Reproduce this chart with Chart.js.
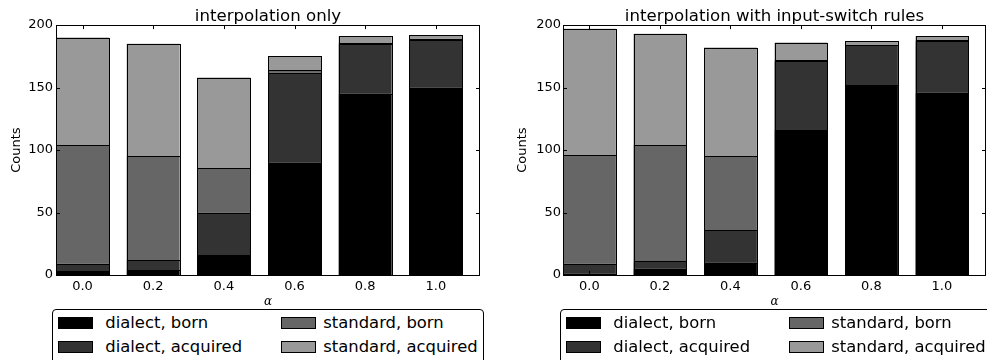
<!DOCTYPE html>
<html>
<head>
<meta charset="utf-8">
<script src="https://cdn.jsdelivr.net/npm/chart.js@4/dist/chart.umd.min.js"></script>
<style>
  html, body { margin: 0; padding: 0; background: #fff; }
  #wrap { position: relative; width: 987px; height: 360px; overflow: hidden; }
  canvas { position: absolute; top: 0; }
  #cL { left: 0; }
  #cR { left: 494px; }
  .legend { position: absolute; top: 309px; width: 430px; height: 80px;
            border: 1px solid #000; border-radius: 4px; background: #fff; box-sizing: content-box; }
  .sw { position: absolute; width: 33px; height: 10px; border: 1px solid #000; }
  .lt { position: absolute; font-family: "DejaVu Sans"; font-size: 16.4px; line-height: 20px;
        white-space: nowrap; color: #000; }
</style>
</head>
<body>
<div id="wrap">
  <canvas id="cL" width="494" height="360"></canvas>
  <canvas id="cR" width="493" height="360"></canvas>
</div>
<script>
// alpha values on the x axis
const alphas = [0.0, 0.2, 0.4, 0.6, 0.8, 1.0];
const countTicks = [0, 50, 100, 150, 200];

const seriesNames = ['dialect, born', 'dialect, acquired', 'standard, born', 'standard, acquired'];
const seriesColors = ['#000000', '#333333', '#666666', '#999999'];

// interpolation only
const dialectBornA = [3, 4, 16, 90, 145, 150];
const dialectAcquiredA = [6, 8, 34, 72, 40, 38];
const standardBornA = [95, 83, 36, 2, 1, 1];
const standardAcquiredA = [86, 90, 72, 11, 5, 3];

// interpolation with input-switch rules
const dialectBornB = [1, 5, 10, 116, 152, 146];
const dialectAcquiredB = [8, 6, 26, 55, 32, 41];
const standardBornB = [87, 93, 59, 1, 0, 1];
const standardAcquiredB = [101, 89, 87, 14, 3, 3];

const FONT = 'DejaVu Sans';

// crisp 1px black outline around every bar segment, taken from the bar elements;
// neighbouring segments share the same edge pixel row
const barEdges = {
  id: 'barEdges',
  afterDatasetsDraw(chart) {
    const ctx = chart.ctx;
    ctx.save();
    ctx.strokeStyle = '#000';
    ctx.lineWidth = 1;
    chart.data.datasets.forEach((ds, i) => {
      chart.getDatasetMeta(i).data.forEach(bar => {
        const { x, y, base, width } = bar.getProps(['x', 'y', 'base', 'width'], true);
        if (Math.abs(base - y) < 0.01) return;
        const l = Math.round(x - width / 2) + 0.5;
        const r = Math.round(x + width / 2) + 0.5;
        const t = Math.round(Math.min(y, base)) + 0.5;
        const b = Math.round(Math.max(y, base)) + 0.5;
        ctx.strokeRect(l, t, r - l, b - t);
      });
    });
    ctx.restore();
  }
};

// frame on all four sides with inward-pointing tick marks
const frameTicks = {
  id: 'frameTicks',
  afterDatasetsDraw(chart) {
    const { ctx, chartArea: a, scales: { x, y } } = chart;
    const len = 4;
    ctx.save();
    ctx.strokeStyle = '#000';
    ctx.lineWidth = 1;
    ctx.beginPath();
    alphas.forEach(v => {
      const px = Math.round(x.getPixelForValue(v)) + 0.5;
      ctx.moveTo(px, a.top); ctx.lineTo(px, a.top + len);
      ctx.moveTo(px, a.bottom); ctx.lineTo(px, a.bottom - len);
    });
    countTicks.forEach(v => {
      const py = Math.round(y.getPixelForValue(v)) + 0.5;
      ctx.moveTo(a.left, py); ctx.lineTo(a.left + len, py);
      ctx.moveTo(a.right, py); ctx.lineTo(a.right - len, py);
    });
    ctx.stroke();
    ctx.strokeRect(Math.round(a.left) + 0.5, Math.round(a.top) + 0.5,
                   Math.round(a.right - a.left) - 1, Math.round(a.bottom - a.top));
    ctx.restore();
  }
};

function makeChart(id, title, series, yWidth, padRight, titlePad, tickPad) {
  const datasets = series.map((vals, i) => ({
    label: seriesNames[i],
    data: alphas.map((a, j) => ({ x: a, y: vals[j] })),
    backgroundColor: seriesColors[i],
    borderWidth: 0,
    barPercentage: 0.75,
    categoryPercentage: 1.0
  }));
  return new Chart(document.getElementById(id), {
    type: 'bar',
    data: { datasets },
    options: {
      responsive: false,
      animation: false,
      devicePixelRatio: 1,
      layout: { padding: { left: 0, right: padRight, top: 0, bottom: 52 } },
      plugins: {
        legend: { display: false },
        tooltip: { enabled: false },
        title: {
          display: true, text: title, color: '#000', fullSize: false,
          font: { family: FONT, size: 16.6, weight: 'normal', lineHeight: 1 },
          padding: { top: 8.5, bottom: 0 }
        }
      },
      scales: {
        x: {
          type: 'linear', stacked: true, offset: false, bounds: 'data',
          min: -0.075, max: 1.125,
          grid: { display: false, drawTicks: false, tickLength: 0 },
          border: { display: false },
          afterBuildTicks: s => { s.ticks = alphas.map(v => ({ value: v })); },
          afterFit: s => { s.height = 33; },
          ticks: {
            color: '#000', padding: 4, maxRotation: 0, autoSkip: false,
            font: { family: FONT, size: 13 },
            callback: v => Number(v).toFixed(1)
          },
          title: {
            display: true, text: 'α', color: '#000',
            font: { family: 'DejaVu Serif', size: 12, style: 'italic', lineHeight: 1 },
            padding: { top: 0, bottom: 0.5 }
          }
        },
        y: {
          stacked: true, min: 0, max: 200,
          grid: { display: false, drawTicks: false, tickLength: 0 },
          border: { display: false },
          afterBuildTicks: s => { s.ticks = countTicks.map(v => ({ value: v })); },
          afterFit: s => { s.width = yWidth; },
          ticks: { color: '#000', padding: tickPad, font: { family: FONT, size: 13 } },
          title: {
            display: true, text: 'Counts', color: '#000',
            font: { family: FONT, size: 13, lineHeight: 1 },
            padding: { top: titlePad, bottom: 0 }
          }
        }
      }
    },
    plugins: [barEdges, frameTicks]
  });
}

const chartA = makeChart('cL', 'interpolation only',
  [dialectBornA, dialectAcquiredA, standardBornA, standardAcquiredA], 56, 14, 10.5, 3);
const chartB = makeChart('cR', 'interpolation with input-switch rules',
  [dialectBornB, dialectAcquiredB, standardBornB, standardAcquiredB], 69, 1, 22.5, 2);

// two-column legend boxes below each panel, built from the chart datasets
function buildLegend(chart, left) {
  const wrap = document.getElementById('wrap');
  const box = document.createElement('div');
  box.className = 'legend';
  box.style.left = left + 'px';
  wrap.appendChild(box);
  // column-major: dialect entries in the first column, standard in the second
  chart.data.datasets.forEach((ds, i) => {
    const col = Math.floor(i / 2), row = i % 2;
    const sw = document.createElement('div');
    sw.className = 'sw';
    sw.style.background = ds.backgroundColor;
    sw.style.left = (left + 5.5 + col * 223.5) + 'px';
    sw.style.top = (316.7 + row * 24.3) + 'px';
    wrap.appendChild(sw);
    const t = document.createElement('div');
    t.className = 'lt';
    t.textContent = ds.label;
    t.style.left = (left + 53.3 + col * 218) + 'px';
    t.style.top = (312.6 + row * 24) + 'px';
    wrap.appendChild(t);
  });
}
buildLegend(chartA, 52);
buildLegend(chartB, 560);
</script>
</body>
</html>
